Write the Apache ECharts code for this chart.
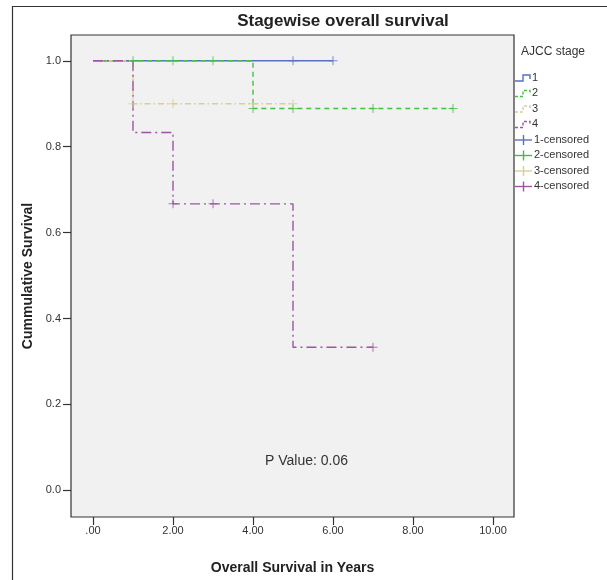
<!DOCTYPE html>
<html>
<head>
<meta charset="utf-8">
<script src="https://cdn.jsdelivr.net/npm/echarts@6/dist/echarts.min.js"></script>
<style>
html,body{margin:0;padding:0;background:#fff;}
#chart{width:607px;height:580px;}
</style>
</head>
<body>
<div id="chart"></div>
<script>
// Kaplan-Meier step data per AJCC stage: [time in years, cumulative survival]
const stage1Curve = [[0, 1.0], [6, 1.0]];
const stage2Curve = [[0, 1.0], [4, 0.889], [9, 0.889]];
const stage3Curve = [[0, 1.0], [1, 0.9], [5, 0.9]];
const stage4Curve = [[0, 1.0], [1, 0.833], [2, 0.667], [5, 0.333], [7, 0.333]];

// censored observations
const stage1Censored = [[5, 1.0], [6, 1.0]];
const stage2Censored = [[1, 1.0], [2, 1.0], [3, 1.0], [4, 0.889], [5, 0.889], [7, 0.889], [9, 0.889]];
const stage3Censored = [[1, 0.9], [2, 0.9], [4, 0.9], [5, 0.9]];
const stage4Censored = [[2, 0.667], [3, 0.667], [7, 0.333]];

const xTicks = [0, 2, 4, 6, 8, 10];
const yTicks = [0, 0.2, 0.4, 0.6, 0.8, 1.0];
const legendNames = ['1', '2', '3', '4', '1-censored', '2-censored', '3-censored', '4-censored'];

const colors = ['#5a6ec6', '#45be45', '#d8d090', '#a052a6'];
const dashes = ['solid', [5, 4], [6, 3, 1.5, 3], [10, 4, 2, 4]];
const curves = [stage1Curve, stage2Curve, stage3Curve, stage4Curve];
const censored = [stage1Censored, stage2Censored, stage3Censored, stage4Censored];

const plusPath = 'path://M-0.11,-1H0.11V-0.11H1V0.11H0.11V1H-0.11V0.11H-1V-0.11H-0.11Z';

const chart = echarts.init(document.getElementById('chart'));

const series = [];
curves.forEach((c, i) => {
  series.push({
    type: 'line', name: legendNames[i], data: c, step: 'end', symbol: 'none',
    lineStyle: { color: colors[i], width: 1.4, type: dashes[i] },
    z: 2 + i, animation: false, silent: true
  });
});
censored.forEach((c, i) => {
  series.push({
    type: 'scatter', name: legendNames[i + 4], data: c, symbol: plusPath, symbolSize: 9,
    itemStyle: { color: colors[i] }, z: 10 + i, animation: false, silent: true
  });
});

// legend drawn as graphics
const legendGraphics = [];
const lx = 515, ly0 = 78, lstep = 15.5;
legendGraphics.push({ type: 'text', left: 521, top: 46, style: { text: 'AJCC stage', font: '12px "Liberation Sans", Arial, sans-serif', fill: '#333' } });
for (let i = 0; i < 4; i++) {
  const y = ly0 + i * lstep;
  legendGraphics.push({
    type: 'polyline', shape: { points: [[lx, y + 3], [lx + 8, y + 3], [lx + 8, y - 3], [lx + 15, y - 3], [lx + 15, y + 1]] },
    style: { stroke: colors[i], lineWidth: 1.4, fill: null, lineDash: dashes[i] === 'solid' ? null : [3, 2] }
  });
  legendGraphics.push({ type: 'text', x: lx + 17, y: y - 6, style: { text: legendNames[i], font: '11px "Liberation Sans", Arial, sans-serif', fill: '#333' } });
}
for (let i = 0; i < 4; i++) {
  const y = ly0 + (i + 4) * lstep;
  legendGraphics.push({ type: 'line', shape: { x1: lx, y1: y, x2: lx + 17, y2: y }, style: { stroke: colors[i], lineWidth: 1.4 } });
  legendGraphics.push({ type: 'line', shape: { x1: lx + 8.5, y1: y - 5, x2: lx + 8.5, y2: y + 5 }, style: { stroke: colors[i], lineWidth: 1.4 } });
  legendGraphics.push({ type: 'text', x: lx + 19, y: y - 6, style: { text: legendNames[i + 4], font: '11px "Liberation Sans", Arial, sans-serif', fill: '#333' } });
}
// outer frame
legendGraphics.push({ type: 'rect', shape: { x: 12.5, y: 6.5, width: 700, height: 700 }, style: { stroke: '#333', fill: null, lineWidth: 1.2 }, z: -1 });
// p-value text
legendGraphics.push({ type: 'text', x: 265, y: 454, style: { text: 'P Value: 0.06', font: '14px "Liberation Sans", Arial, sans-serif', fill: '#333' } });

const option = {
  animation: false,
  backgroundColor: '#fff',
  title: {
    text: 'Stagewise overall survival', left: 338, top: 8, textAlign: 'center',
    textStyle: { fontFamily: 'Liberation Sans, Arial, sans-serif', fontSize: 17, fontWeight: 'bold', color: '#222' }
  },
  grid: { left: 71, right: 93, top: 35, bottom: 59, show: true, backgroundColor: '#f1f1f1', borderColor: '#333', borderWidth: 1.2 },
  xAxis: {
    type: 'value', min: -0.55, max: 10.525,
    name: 'Overall Survival in Years', nameLocation: 'middle', nameGap: 44,
    nameTextStyle: { fontFamily: 'Liberation Sans, Arial, sans-serif', fontSize: 14, fontWeight: 'bold', color: '#222' },
    axisLine: { show: false, onZero: false },
    splitLine: { show: false },
    axisTick: { show: true, length: 8, lineStyle: { color: '#333', width: 1.2 }, customValues: xTicks },
    axisLabel: {
      customValues: xTicks, margin: 8, fontFamily: 'Liberation Sans, Arial, sans-serif', fontSize: 11, color: '#333',
      formatter: v => v === 0 ? '.00' : v.toFixed(2)
    }
  },
  yAxis: {
    type: 'value', min: -0.062, max: 1.06,
    name: 'Cummulative Survival', nameLocation: 'middle', nameGap: 35, nameRotate: 90,
    nameTextStyle: { fontFamily: 'Liberation Sans, Arial, sans-serif', fontSize: 14, fontWeight: 'bold', color: '#222' },
    axisLine: { show: false, onZero: false },
    splitLine: { show: false },
    axisTick: { show: true, length: 8, lineStyle: { color: '#333', width: 1.2 }, customValues: yTicks },
    axisLabel: {
      customValues: yTicks, margin: 10, fontFamily: 'Liberation Sans, Arial, sans-serif', fontSize: 11, color: '#333',
      formatter: v => v.toFixed(1)
    }
  },
  graphic: legendGraphics,
  series: series
};
chart.setOption(option);
</script>
</body>
</html>
